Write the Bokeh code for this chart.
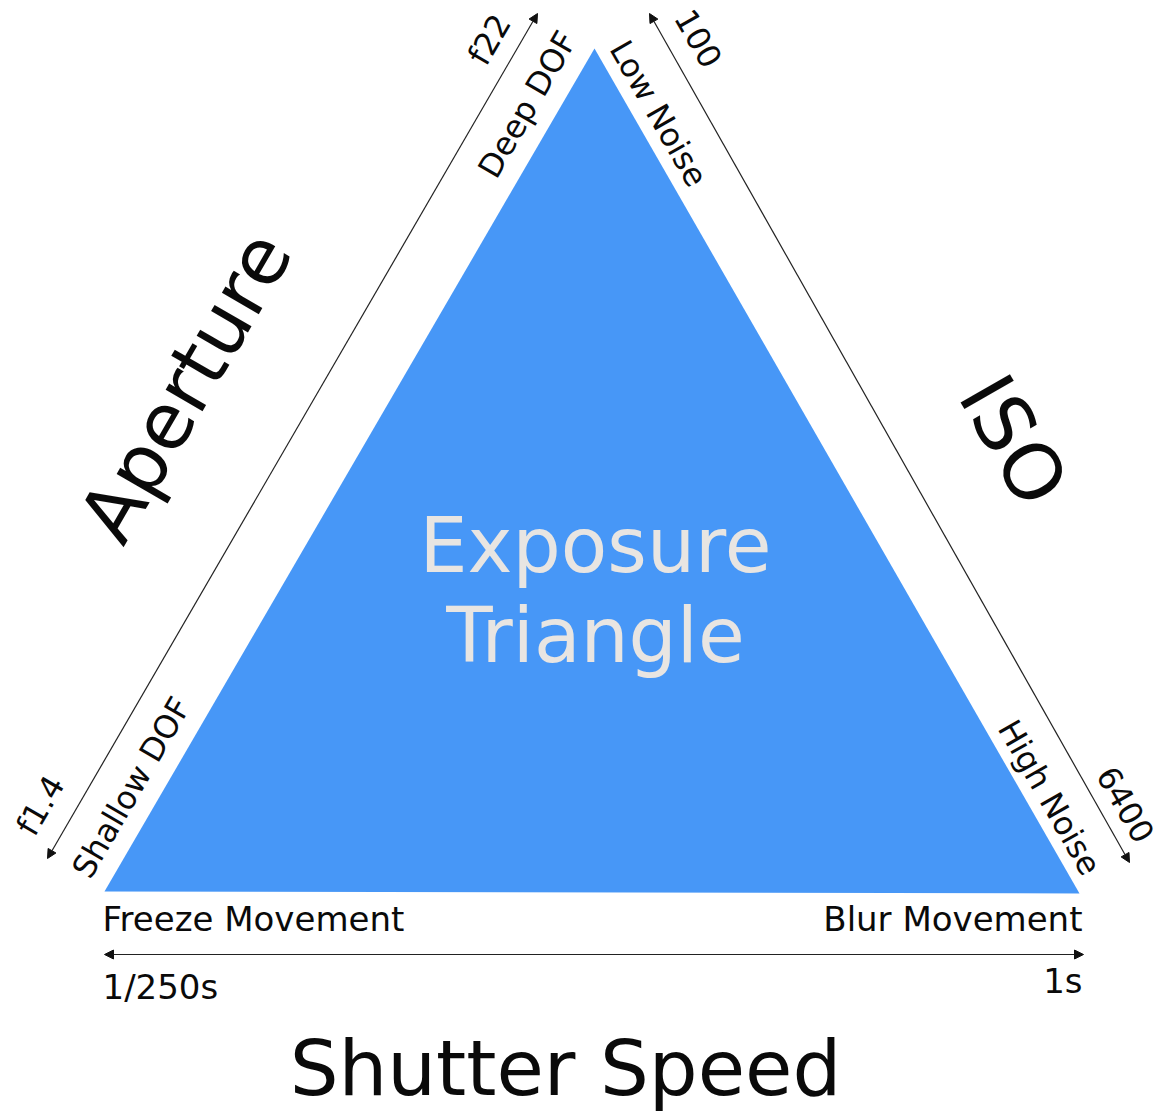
from bokeh.plotting import figure
from bokeh.models import Range1d, Arrow, NormalHead, ColumnDataSource
from bokeh.core.properties import value
from bokeh.embed import file_html
from bokeh.resources import INLINE
import math

# ---- diagram content (page-pixel coordinates, y measured downward) ----
tri_x = [594, 1079, 104]
tri_y = [48, 893, 891]

# arrows: (x_start, y_start, x_end, y_end)
arrow_left = [47, 858, 537, 13]
arrow_right = [649, 13, 1129, 862]
arrow_bottom = [104, 954, 1083, 954]

left_angle_deg = 59.9
right_angle_deg = -60.2

big_labels = ["Aperture", "ISO"]
big_x = [185, 1013]
big_y = [386, 440]
big_angle = [left_angle_deg, right_angle_deg]

edge_labels = ["Deep DOF", "f22", "Shallow DOF", "f1.4",
               "Low Noise", "100", "High Noise", "6400"]
edge_x = [527, 489, 131, 40, 658, 698, 1049, 1125]
edge_y = [104, 39, 787, 805, 113, 38, 797, 804]
edge_angle = [left_angle_deg] * 4 + [right_angle_deg] * 4

bottom_left_labels = ["Freeze Movement", "1/250s"]
bottom_left_x = [102, 102]
bottom_left_y = [931, 999]
bottom_right_labels = ["Blur Movement", "1s"]
bottom_right_x = [1082, 1082]
bottom_right_y = [931, 993]

title_labels = ["Exposure", "Triangle"]
title_x = [595, 595]
title_y = [573, 663]

axis_title = "Shutter Speed"
axis_title_x = 565
axis_title_y = 1096

W, H = 1161, 1113
BASELINE_FIX = 0.37  # renderer draws alphabetic baseline lower than measured


def fy(v, size=0):
    if isinstance(v, list):
        return [H - t + BASELINE_FIX * size for t in v]
    return H - v + BASELINE_FIX * size


p = figure(width=W, height=H, output_backend="svg", toolbar_location=None,
           x_range=Range1d(0, W), y_range=Range1d(0, H), min_border=0)
p.axis.visible = False
p.grid.visible = False
p.outline_line_color = None
p.background_fill_color = "white"
p.border_fill_color = "white"

# triangle
p.patch(tri_x, fy(tri_y), fill_color="#4797f7", line_color=None)

# arrows
for a in (arrow_left, arrow_right, arrow_bottom):
    p.add_layout(Arrow(
        start=NormalHead(size=9, fill_color="#111111", line_color="#111111", line_width=1),
        end=NormalHead(size=9, fill_color="#111111", line_color="#111111", line_width=1),
        x_start=a[0], y_start=fy(a[1]), x_end=a[2], y_end=fy(a[3]),
        line_color="#222222", line_width=1.2))

font = value("DejaVu Sans")

# big rotated labels
src_big = ColumnDataSource(dict(x=big_x, y=fy(big_y), t=big_labels,
                                a=[math.radians(d) for d in big_angle]))
p.text("x", "y", text="t", angle="a", source=src_big, text_font=font,
       text_font_size="78px", text_align="center", text_baseline="middle",
       text_color="#0a0a0a")

# edge labels
src_edge = ColumnDataSource(dict(x=edge_x, y=fy(edge_y), t=edge_labels,
                                 a=[math.radians(d) for d in edge_angle]))
p.text("x", "y", text="t", angle="a", source=src_edge, text_font=font,
       text_font_size="32px", text_align="center", text_baseline="middle",
       text_color="#0a0a0a")

# bottom labels
p.text(bottom_left_x, fy(bottom_left_y, 34), text=bottom_left_labels, text_font=font,
       text_font_size="34px", text_align="left", text_baseline="alphabetic",
       text_color="#0a0a0a")
p.text(bottom_right_x, fy(bottom_right_y, 34), text=bottom_right_labels, text_font=font,
       text_font_size="34px", text_align="right", text_baseline="alphabetic",
       text_color="#0a0a0a")

# central title
p.text(title_x, fy(title_y, 76), text=title_labels, text_font=font,
       text_font_size="76px", text_align="center", text_baseline="alphabetic",
       text_color="#e8e5e2")

# shutter speed
p.text([axis_title_x], [fy(axis_title_y, 77)], text=[axis_title], text_font=font,
       text_font_size="77px", text_align="center", text_baseline="alphabetic",
       text_color="#0a0a0a")

open("out.html", "w").write(file_html(p, INLINE))
